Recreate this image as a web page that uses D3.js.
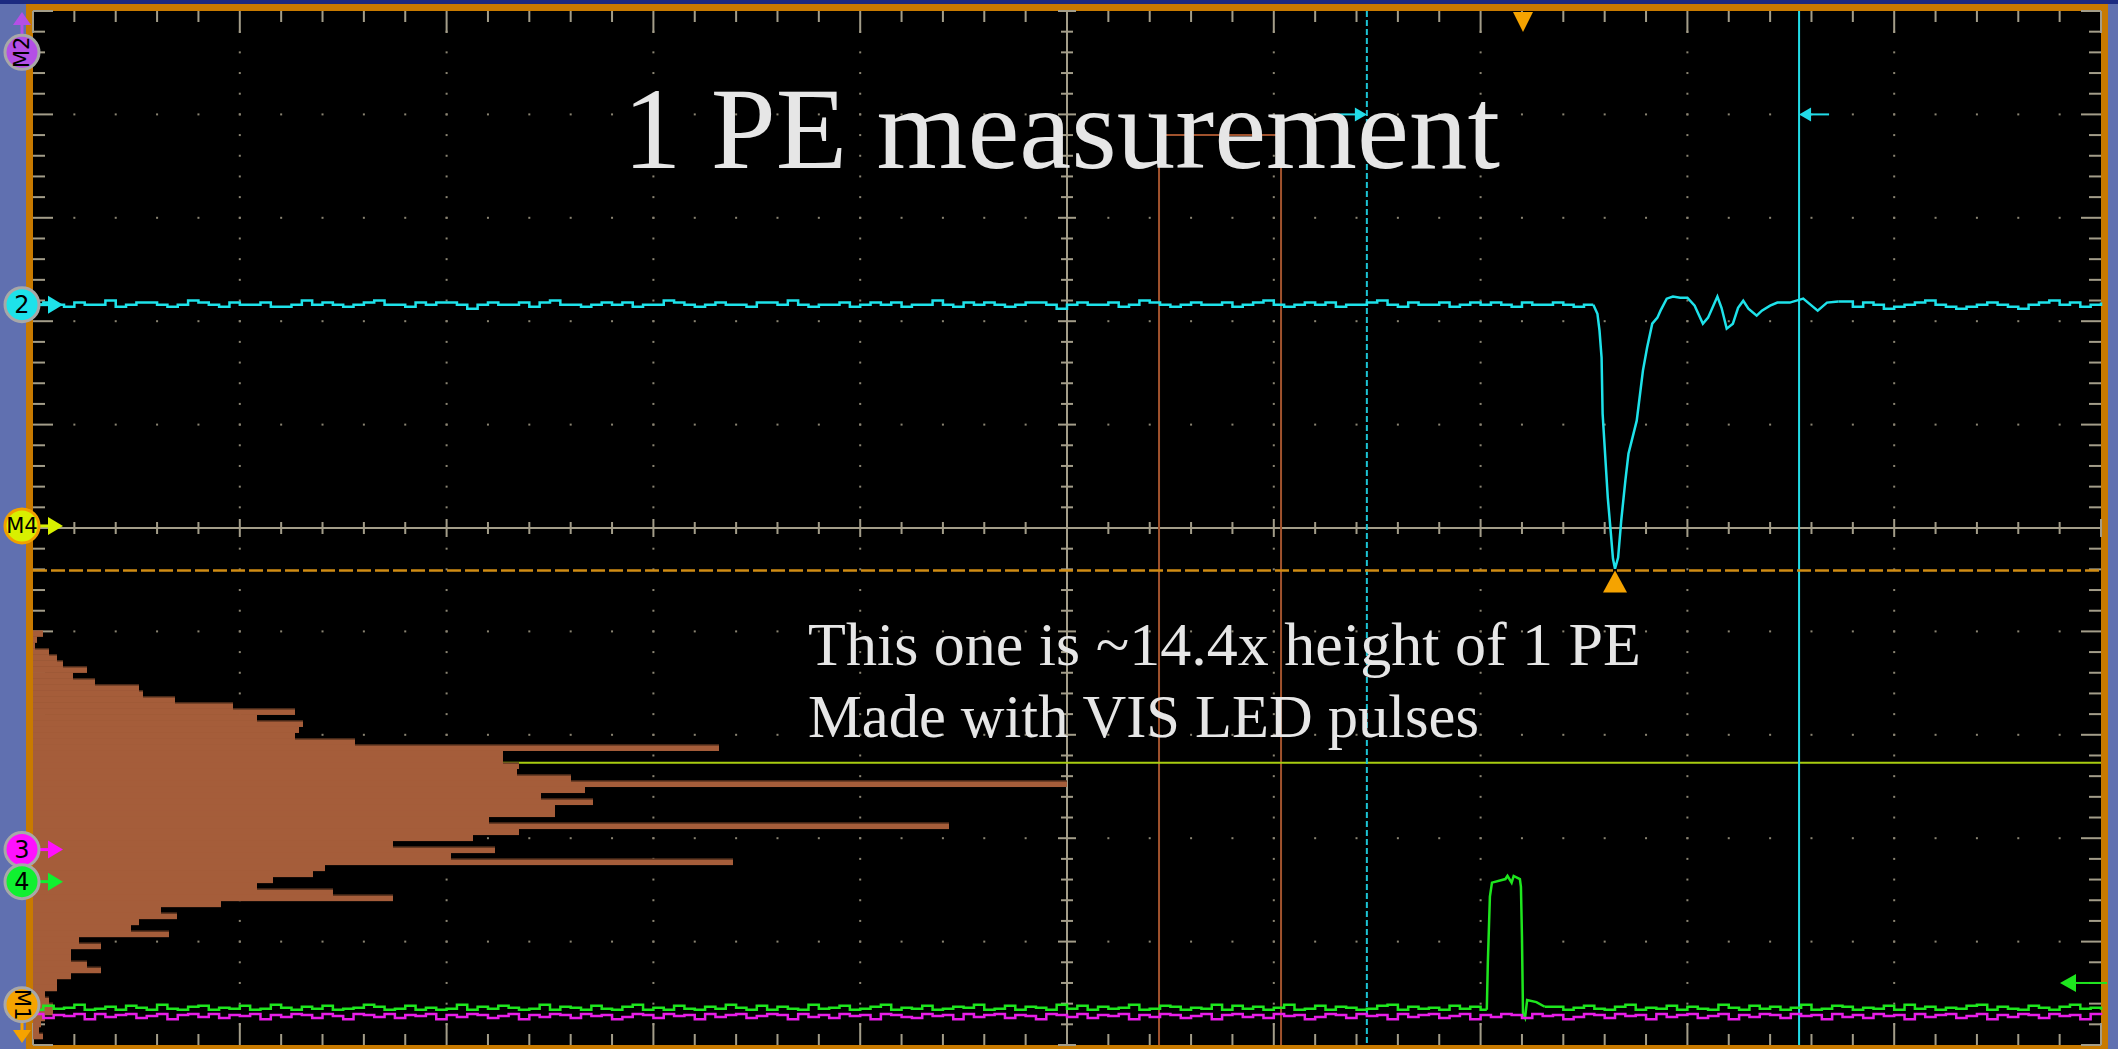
<!DOCTYPE html>
<html>
<head>
<meta charset="utf-8">
<script src="https://cdn.jsdelivr.net/npm/d3@7"></script>
<style>
  body { margin: 0; background: #6070b0; overflow: hidden; }
</style>
</head>
<body>
<svg id="scope"></svg>
<script>
/* ---- data ---- */

// record: one sample per ns, starting at -100 ns (20 ns/div, 10 divisions)
var sampleStart = -100;
var sampleStep = 1;

// channel 2 (cyan), mV
var ch2PreNoise = [
  0,1,0,-1,1,0,0,2,-1,0,1,1,0,-1,0,2,1,0,-1,1,
  0,0,1,-1,-1,0,2,0,1,0,-1,0,1,2,0,0,-1,1,0,1,
  1,0,-2,0,1,0,0,1,-1,1,2,0,0,-1,0,1,0,1,-1,0,
  0,2,1,0,-1,0,1,0,0,-1,1,1,0,2,0,-1,0,0,1,-1,
  0,1,0,1,-1,0,0,2,0,-1,1,0,1,0,-1,0,1,1,0,-2,
  0,1,0,0,1,-1,0,2,1,0,-1,0,1,0,0,1,-1,0,1,2,
  0,-1,0,1,0,1,-1,0,0,1,2,0,-1,1,0,0,1,-1,0,1,
  0,1,0,-1,1,0,0,1,0,-1,0
];
var ch2Pulse = [
  [50.9,0],[51.3,-4.4],[51.5,-12.6],[51.7,-25.6],[51.8,-52.7],[52.3,-93.3],
  [52.6,-110.7],[52.8,-122.8],[53.0,-127.7],[53.3,-122.3],[53.6,-104.4],
  [54.0,-85.1],[54.3,-72.1],[55.1,-56.1],[55.7,-31.9],[56.1,-20.8],
  [56.6,-9.2],[57.1,-6.3],[57.4,-2.9],[58.0,2.9],[58.6,3.9],[59.3,3.4],
  [60.0,3.4],[60.7,-0.5],[61.5,-9.2],[62.0,-6.3],[62.9,3.9],[63.3,-1.5],
  [63.8,-11.6],[64.4,-9.2],[64.9,-1.5],[65.4,1.9],[65.9,-1.9],[66.7,-5.3],
  [67.2,-2.9],[68.0,-0.5],[68.7,1.0],[69.9,1.0],[71.2,2.9],[72.6,-2.9],
  [73.5,1.0],[74.6,1.5]
];
var ch2PostStart = 76;
var ch2PostNoise = [-1,1,0,-2,-1,0,1,2,0,-1,-2,-1,0,1,0,-1,-2,0,1,2,0,1,-1,0,1];

// channel 4 (green), mV
var ch4PreNoise = [
  0,8,2,4,10,0,2,6,0,8,4,0,10,2,0,6,8,0,4,2,
  8,0,2,10,4,0,6,2,8,0,2,4,10,6,0,2,8,0,4,0,
  2,10,0,6,2,8,4,0,2,10,0,6,4,0,8,2,0,6,10,0,
  4,0,8,2,0,6,2,10,4,0,8,0,6,2,0,10,2,4,8,0,
  2,6,10,0,4,2,8,0,2,6,4,10,0,2,8,0,6,4,0,10,
  2,8,0,6,2,4,10,0,2,8,6,0,4,2,10,0,8,2,6,0,
  4,10,0,2,8,0,6,4,0,2,8,10,0,6,2,4,0,8,2,6,
  0
];
var ch4Pulse = [
  [40.6,0],[40.7,91],[40.9,219],[41.1,246],[42.4,253],[42.6,259],[43.0,246],
  [43.2,259],[43.8,253],[43.9,238],[44.0,141],[44.1,-6],[44.3,-15],[44.5,19],
  [45.4,15],[46.2,6]
];
var ch4PostStart = 47;
var ch4PostNoise = [
  6,0,4,8,2,0,6,10,0,4,2,8,0,6,2,0,10,4,0,8,2,6,0,4,10,0,2,8,6,0,
  4,2,8,0,10,2,6,0,4,2,8,10,0,6,2,0,8,4,0,6,10,2,4,0
];

// channel 3 (magenta), mV
var ch3Noise = [
  0,-8,-2,-4,0,-10,0,-6,-2,0,-8,-4,0,-10,-2,0,-6,0,-8,-2,
  -4,0,-10,-2,-6,0,-2,-8,0,-4,-10,0,-2,-6,0,-8,-2,-4,0,-10,
  -2,-6,0,-2,-8,-4,0,-10,-2,-6,0,-2,-8,0,-4,-2,-10,-6,0,-2,
  -8,0,-4,-2,-10,0,-6,-2,0,-8,-4,0,-2,-10,0,-6,-2,-8,0,-4,
  -2,-10,0,-2,-6,-8,0,-4,-2,-10,0,-6,-2,0,-8,-2,-4,-10,0,-2,
  -6,0,-8,-2,-4,0,-10,-2,-6,0,-2,-8,-4,0,-10,-2,0,-6,-2,-8,
  0,-4,-2,-10,-6,0,-2,-8,0,-4,-2,-10,0,-6,-2,0,-8,-4,0,-10,
  -2,-6,0,-2,-8,0,-4,-2,-10,-6,0,-2,-8,0,-4,-2,-10,0,-6,-2,
  0,-8,-4,0,-10,-2,-6,0,-2,-8,0,-4,-2,-10,0,-6,-2,-8,0,-4,
  -2,-10,0,-6,-2,0,-8,-4,0,-10,-2,-6,0,-2,-8,0,-4,-2,-10,0,
  -2
];

// histogram of pulse heights, hits per bin (top bin first)
var histHits = [
  5,2,1,8,12,15,27,20,31,53,55,71,100,131,112,135,133,131,161,343,
  235,235,243,242,269,517,276,254,280,261,261,228,458,243,220,180,231,209,350,146,
  140,120,112,150,180,94,64,72,53,49,68,23,34,19,19,27,34,19,12,12,
  6,8,10,10,6,4,3,5
];

// channel settings: offset position (div) and mV/div
var ch2 = { pos: 2.16, scale: 50 };
var ch3 = { pos: -4.70, scale: 200 };
var ch4 = { pos: -4.66, scale: 200 };

// reference markers on the left edge: label, level (div)
var markerLabels = ["M2", "2", "M4", "3", "4", "M1"];
var markerLevels = [4.60, 2.16, 0.02, -3.11, -3.42, -4.61];

// cursors, trigger, histogram box (ns / div)
var cursorA = 29.0, cursorB = 70.8, cursorArrowLevel = 4.0;
var triggerTime = 44.1;
var measLevel = -0.41, measTime = 53.0;
var m4Level = -2.27;
var ch4RightLevel = -4.40;
var histBoxLeft = 8.9, histBoxRight = 20.7, histBoxTop = 3.80;
var histTop = -0.99, histBottom = -4.94;

/* ---- drawing ---- */
var W = 2118, H = 1049;
var svg = d3.select("#scope").attr("width", W).attr("height", H);

var x = d3.scaleLinear().domain([-100, 100]).range([33, 2101]);
var y = d3.scaleLinear().domain([-5, 5]).range([1045, 11]);

function yCh(ch, v) { return y(ch.pos + v / ch.scale); }

// frame
svg.append("rect").attr("width", W).attr("height", H).attr("fill", "#6070b0");
svg.append("rect").attr("width", W).attr("height", 4).attr("fill", "#1c2a80");
svg.append("rect").attr("x", 26).attr("y", 4).attr("width", 2082).attr("height", 1045).attr("fill", "#c87a00");
svg.append("rect").attr("x", x(-100)).attr("y", y(5))
  .attr("width", x(100) - x(-100)).attr("height", y(-5) - y(5)).attr("fill", "#000");

var grid = svg.append("g");
var gridColor = "#a39d89", dotColor = "#8a8472";

var minorX = d3.range(51).map(function(i) { return -100 + 4 * i; });
var minorY = d3.range(51).map(function(i) { return -5 + 0.2 * i; });
var majorX = d3.range(1, 10).map(function(i) { return -100 + 20 * i; });
var majorY = d3.range(1, 10).map(function(i) { return -5 + i; });

// dotted graticule
majorX.forEach(function(gx) {
  if (gx === 0) return;
  minorY.slice(1, -1).forEach(function(gy) {
    grid.append("rect").attr("x", x(gx) - 1).attr("y", y(gy) - 1)
      .attr("width", 2).attr("height", 2).attr("fill", dotColor);
  });
});
majorY.forEach(function(gy) {
  if (Math.abs(gy) < 1e-9) return;
  minorX.slice(1, -1).forEach(function(gx) {
    grid.append("rect").attr("x", x(gx) - 1).attr("y", y(gy) - 1)
      .attr("width", 2).attr("height", 2).attr("fill", dotColor);
  });
});

// centre cross with ticks
grid.append("line").attr("x1", x(-100)).attr("x2", x(100)).attr("y1", y(0)).attr("y2", y(0))
  .attr("stroke", gridColor).attr("stroke-width", 2);
grid.append("line").attr("x1", x(0)).attr("x2", x(0)).attr("y1", y(5)).attr("y2", y(-5))
  .attr("stroke", gridColor).attr("stroke-width", 2);
minorX.forEach(function(gx, i) {
  var len = i % 5 === 0 ? 9 : 6;
  grid.append("line").attr("x1", x(gx)).attr("x2", x(gx)).attr("y1", y(0) - len).attr("y2", y(0) + len)
    .attr("stroke", gridColor).attr("stroke-width", 2);
  var edge = i % 5 === 0 ? 22 : 11;
  grid.append("line").attr("x1", x(gx)).attr("x2", x(gx)).attr("y1", y(5)).attr("y2", y(5) + edge)
    .attr("stroke", gridColor).attr("stroke-width", 2);
  grid.append("line").attr("x1", x(gx)).attr("x2", x(gx)).attr("y1", y(-5)).attr("y2", y(-5) - edge)
    .attr("stroke", gridColor).attr("stroke-width", 2);
});
minorY.forEach(function(gy, i) {
  var len = i % 5 === 0 ? 9 : 6;
  grid.append("line").attr("x1", x(0) - len).attr("x2", x(0) + len).attr("y1", y(gy)).attr("y2", y(gy))
    .attr("stroke", gridColor).attr("stroke-width", 2);
  var edge = i % 5 === 0 ? 20 : 12;
  grid.append("line").attr("x1", x(-100)).attr("x2", x(-100) + edge).attr("y1", y(gy)).attr("y2", y(gy))
    .attr("stroke", gridColor).attr("stroke-width", 2);
  grid.append("line").attr("x1", x(100)).attr("x2", x(100) - edge).attr("y1", y(gy)).attr("y2", y(gy))
    .attr("stroke", gridColor).attr("stroke-width", 2);
});

// histogram box
var boxColor = "#a0522d";
svg.append("path")
  .attr("d", "M" + x(histBoxLeft) + "," + y(-5) + "V" + y(histBoxTop) + "H" + x(histBoxRight) + "V" + y(-5))
  .attr("fill", "none").attr("stroke", boxColor).attr("stroke-width", 2);

// M4 flat trace
svg.append("line").attr("x1", x(-100)).attr("x2", x(100)).attr("y1", y(m4Level)).attr("y2", y(m4Level))
  .attr("stroke", "#a8cc10").attr("stroke-width", 2);

// horizontal histogram
var hy = d3.scaleBand().domain(d3.range(histHits.length)).range([y(histTop), y(histBottom)]);
var hx = d3.scaleLinear().domain([0, d3.max(histHits) * 2]).range([x(-100), x(100)]);
var hist = svg.append("g");
hist.selectAll("rect").data(histHits).enter().append("rect")
  .attr("x", hx(0))
  .attr("y", function(d, i) { return hy(i); })
  .attr("width", function(d) { return hx(d) - hx(0); })
  .attr("height", hy.bandwidth() + 0.5)
  .attr("fill", "#a55d3a");
hist.selectAll("line").data(histHits).enter().append("line")
  .attr("x1", function(d, i) { return i === 0 ? hx(0) : hx(histHits[i - 1]); })
  .attr("x2", function(d) { return hx(d); })
  .attr("y1", function(d, i) { return hy(i) + 0.5; })
  .attr("y2", function(d, i) { return hy(i) + 0.5; })
  .attr("stroke", function(d, i) { return i > 0 && d > histHits[i - 1] ? "#3a2214" : "none"; })
  .attr("stroke-width", 1);

// cursors
svg.append("line").attr("x1", x(cursorA)).attr("x2", x(cursorA)).attr("y1", y(5)).attr("y2", y(-5))
  .attr("stroke", "#1cc4d4").attr("stroke-width", 2).attr("stroke-dasharray", "6,3");
svg.append("line").attr("x1", x(cursorB)).attr("x2", x(cursorB)).attr("y1", y(5)).attr("y2", y(-5))
  .attr("stroke", "#22dce8").attr("stroke-width", 2);
var ca = y(cursorArrowLevel);
svg.append("line").attr("x1", x(cursorA) - 31).attr("x2", x(cursorA) - 8).attr("y1", ca).attr("y2", ca)
  .attr("stroke", "#22dce8").attr("stroke-width", 2);
svg.append("path").attr("d", "M" + (x(cursorA) - 12) + "," + (ca - 7) + "L" + x(cursorA) + "," + ca + "L" + (x(cursorA) - 12) + "," + (ca + 7) + "Z")
  .attr("fill", "#22dce8");
svg.append("line").attr("x1", x(cursorB) + 8).attr("x2", x(cursorB) + 30).attr("y1", ca).attr("y2", ca)
  .attr("stroke", "#22dce8").attr("stroke-width", 2);
svg.append("path").attr("d", "M" + (x(cursorB) + 12) + "," + (ca - 7) + "L" + x(cursorB) + "," + ca + "L" + (x(cursorB) + 12) + "," + (ca + 7) + "Z")
  .attr("fill", "#22dce8");

// measurement level
svg.append("line").attr("x1", x(-100)).attr("x2", x(100)).attr("y1", y(measLevel)).attr("y2", y(measLevel))
  .attr("stroke", "#d08c14").attr("stroke-width", 2.5).attr("stroke-dasharray", "14,4");

// traces: noise drawn as sample steps, pulses as joined points
function noisePoints(vals, start) {
  return vals.map(function(v, i) { return [start + i * sampleStep, v]; });
}
function traceLine(ch, curve) {
  return d3.line()
    .x(function(d) { return x(d[0]); })
    .y(function(d) { return yCh(ch, d[1]); })
    .curve(curve);
}
function drawTrace(ch, pre, pulse, post, color, width) {
  var g = svg.append("g").attr("fill", "none").attr("stroke", color).attr("stroke-width", width);
  var first = pulse.length ? pulse[0] : null;
  var last = pulse.length ? pulse[pulse.length - 1] : null;
  g.append("path").datum(first ? pre.concat([first]) : pre).attr("d", traceLine(ch, d3.curveStepAfter));
  if (pulse.length) g.append("path").datum(pulse).attr("d", traceLine(ch, d3.curveLinear));
  if (post) g.append("path").datum([last].concat(post)).attr("d", traceLine(ch, d3.curveStepAfter));
}

drawTrace(ch4, noisePoints(ch4PreNoise, sampleStart), ch4Pulse, noisePoints(ch4PostNoise, ch4PostStart), "#1ee61e", 2.5);
drawTrace(ch3, noisePoints(ch3Noise, sampleStart), [], null, "#e81ee8", 2.5);
drawTrace(ch2, noisePoints(ch2PreNoise, sampleStart), ch2Pulse, noisePoints(ch2PostNoise, ch2PostStart), "#1ee2ea", 2.5);

// trigger marker and measurement marker
var tx = x(triggerTime);
svg.append("path").attr("d", "M" + (tx - 10) + ",12L" + (tx + 10) + ",12L" + tx + ",32Z").attr("fill", "#f5a300");
var mx = x(measTime), my = y(measLevel);
svg.append("path").attr("d", "M" + mx + "," + my + "L" + (mx + 12) + "," + (my + 22) + "L" + (mx - 12) + "," + (my + 22) + "Z")
  .attr("fill", "#f5a300");

// right edge ch4 arrow
var gy4 = y(ch4RightLevel);
svg.append("line").attr("x1", x(100) - 26).attr("x2", x(100) + 6).attr("y1", gy4).attr("y2", gy4)
  .attr("stroke", "#1ee61e").attr("stroke-width", 2);
svg.append("path").attr("d", "M" + (x(100) - 41) + "," + gy4 + "L" + (x(100) - 25) + "," + (gy4 - 9) + "L" + (x(100) - 25) + "," + (gy4 + 9) + "Z")
  .attr("fill", "#1ee61e");

// left markers
var markerFill = ["#b44fe6", "#1ee2ea", "#d8f000", "#ff10ff", "#10f030", "#f5a300"];
var markerRing = ["#a8a8a8", "#a8a8a8", "#f0a000", "#a8a8a8", "#a8a8a8", "#a8a8a8"];
var markers = svg.append("g");
markerLabels.forEach(function(label, i) {
  var cx = 22, cy = y(markerLevels[i]), col = markerFill[i];
  if (label === "M2") {
    markers.append("line").attr("x1", cx).attr("x2", cx).attr("y1", cy - 18).attr("y2", 24)
      .attr("stroke", col).attr("stroke-width", 3);
    markers.append("path").attr("d", "M" + (cx - 9) + ",25L" + cx + ",12L" + (cx + 9) + ",25Z").attr("fill", col);
  } else if (label === "M1") {
    markers.append("line").attr("x1", cx).attr("x2", cx).attr("y1", cy + 18).attr("y2", 1031)
      .attr("stroke", col).attr("stroke-width", 3);
    markers.append("path").attr("d", "M" + (cx - 9) + ",1030L" + cx + ",1043L" + (cx + 9) + ",1030Z").attr("fill", col);
  } else {
    markers.append("line").attr("x1", cx + 18).attr("x2", cx + 28).attr("y1", cy).attr("y2", cy)
      .attr("stroke", col).attr("stroke-width", 3);
    markers.append("path").attr("d", "M" + (cx + 26) + "," + (cy - 9) + "L" + (cx + 41) + "," + cy + "L" + (cx + 26) + "," + (cy + 9) + "Z")
      .attr("fill", col);
  }
  markers.append("circle").attr("cx", cx).attr("cy", cy).attr("r", 17)
    .attr("fill", col).attr("stroke", markerRing[i]).attr("stroke-width", 3);
  var rot = label === "M2" ? -90 : (label === "M1" ? 90 : 0);
  markers.append("text")
    .attr("x", cx).attr("y", cy)
    .attr("transform", "rotate(" + rot + "," + cx + "," + cy + ")")
    .attr("text-anchor", "middle").attr("dominant-baseline", "central")
    .attr("font-family", "DejaVu Sans, sans-serif")
    .attr("font-size", label.length > 1 ? 21 : 24)
    .attr("fill", "#000")
    .text(label);
});

// annotations
svg.append("text")
  .attr("x", 623).attr("y", 168)
  .attr("font-family", "Liberation Serif, serif").attr("font-size", 116)
  .attr("fill", "#e6e6e6")
  .attr("textLength", 877).attr("lengthAdjust", "spacingAndGlyphs")
  .text("1 PE measurement");
svg.append("text")
  .attr("x", 808).attr("y", 665)
  .attr("font-family", "Liberation Serif, serif").attr("font-size", 62)
  .attr("fill", "#e6e6e6")
  .attr("textLength", 833).attr("lengthAdjust", "spacingAndGlyphs")
  .text("This one is ~14.4x height of 1 PE");
svg.append("text")
  .attr("x", 808).attr("y", 737)
  .attr("font-family", "Liberation Serif, serif").attr("font-size", 62)
  .attr("fill", "#e6e6e6")
  .attr("textLength", 671).attr("lengthAdjust", "spacingAndGlyphs")
  .text("Made with VIS LED pulses");
</script>
</body>
</html>
